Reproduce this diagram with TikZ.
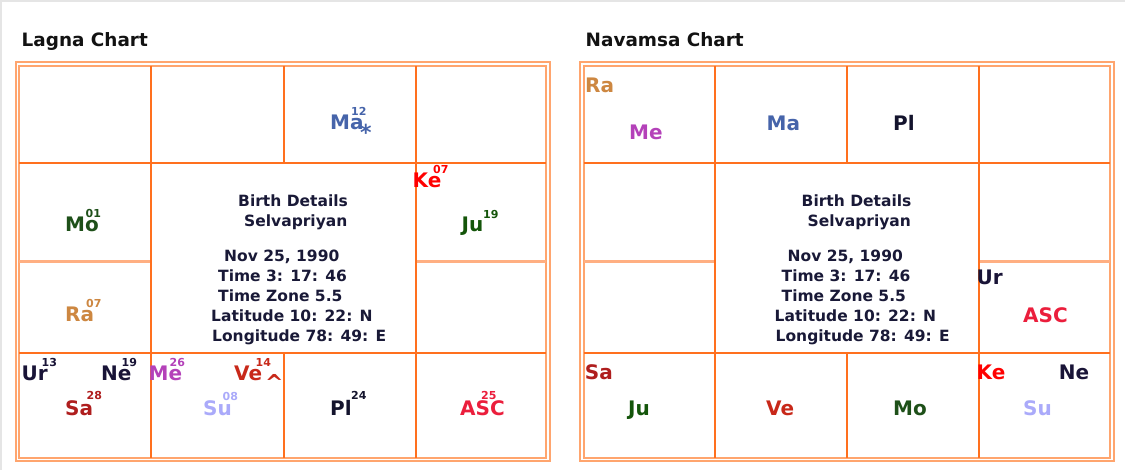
\documentclass[tikz,border=0pt]{standalone}
\usepackage{fontspec}
\setmainfont{DejaVu Sans}
\begin{document}
\begin{tikzpicture}[x=1pt, y=-1pt,
    pl/.style={anchor=base west, inner sep=0pt, font=\fontsize{20}{24}\selectfont\bfseries},
    dg/.style={anchor=base west, inner sep=0pt, font=\fontsize{11}{12}\selectfont\bfseries},
    info/.style={anchor=base west, inner sep=0pt, text=mytxt, font=\fontsize{15.5}{18}\selectfont\bfseries},
    ttl/.style={anchor=base west, inner sep=0pt, text=black!93, font=\fontsize{18.4}{22}\selectfont\bfseries},
    chartframe/.style={draw=myfrm, line width=2pt},
    cellline/.style={draw=mygrd, line width=2pt}]
    \definecolor{myfrm}{RGB}{255,165,110}
    \definecolor{mygrd}{RGB}{255,112,30}
    \definecolor{mylt}{RGB}{255,175,130}
    \definecolor{mytxt}{RGB}{25,25,55}
    \definecolor{cMa}{RGB}{70,100,170}
    \definecolor{cMo}{RGB}{30,80,25}
    \definecolor{cJu}{RGB}{20,85,10}
    \definecolor{cKe}{RGB}{255,0,0}
    \definecolor{cRa}{RGB}{205,135,65}
    \definecolor{cUr}{RGB}{25,20,55}
    \definecolor{cMe}{RGB}{180,65,185}
    \definecolor{cVe}{RGB}{200,40,25}
    \definecolor{cSa}{RGB}{175,30,30}
    \definecolor{cSu}{RGB}{170,170,250}
    \definecolor{cPl}{RGB}{20,20,45}
    \definecolor{cAsc}{RGB}{235,30,60}

    \useasboundingbox (0,0) rectangle (1125,470);
    \fill[white] (0,0) rectangle (1125,470);
    \draw[black!10, line width=2pt] (1,470) -- (1,1) -- (1125,1);

    % titles
    \node[ttl] (lagnaTitle) at (21.5,47) {Lagna Chart};
    \node[ttl] (navTitle) at (585.5,47) {Navamsa Chart};

    % lagna chart frame and cells
    \draw[chartframe] (15.5,62) rectangle (550,461);
    \draw[chartframe] (19,66) rectangle (546,457.5);
    \draw[cellline] (19,163.5) -- (546,163.5);
    \draw[cellline] (19,353.5) -- (546,353.5);
    \draw[mylt, line width=2.2pt] (19,261.5) -- (150.5,261.5);
    \draw[mylt, line width=2.2pt] (415.5,261.5) -- (546,261.5);
    \draw[cellline] (150.5,66) -- (150.5,457.5);
    \draw[cellline] (415.5,66) -- (415.5,457.5);
    \draw[cellline] (283.5,66) -- (283.5,163.5);
    \draw[cellline] (283.5,353.5) -- (283.5,457.5);

    % navamsa chart frame and cells
    \draw[chartframe] (579.5,62) rectangle (1113.5,461);
    \draw[chartframe] (583.5,66) rectangle (1109.5,457.5);
    \draw[cellline] (583.5,163.5) -- (1109.5,163.5);
    \draw[cellline] (583.5,353.5) -- (1109.5,353.5);
    \draw[mylt, line width=2.2pt] (583.5,261.5) -- (714.5,261.5);
    \draw[mylt, line width=2.2pt] (978.5,261.5) -- (1109.5,261.5);
    \draw[cellline] (714.5,66) -- (714.5,457.5);
    \draw[cellline] (978.5,66) -- (978.5,457.5);
    \draw[cellline] (846.5,66) -- (846.5,163.5);
    \draw[cellline] (846.5,353.5) -- (846.5,457.5);

    % birth details
    \node[info] (lInfoA) at (238,206.5) {Birth Details};
    \node[info] (lInfoB) at (244,226.5) {Selvapriyan};
    \node[info] (lInfoC) at (224,261.7) {Nov 25, 1990};
    \node[info] (lInfoD) at (218,281.7) {Time 3: 17: 46};
    \node[info] (lInfoE) at (218,301.7) {Time Zone 5.5};
    \node[info] (lInfoF) at (211,321.7) {Latitude 10: 22: N};
    \node[info] (lInfoG) at (212,341.7) {Longitude 78: 49: E};
    \node[info] (rInfoA) at (801.5,206.5) {Birth Details};
    \node[info] (rInfoB) at (807.5,226.5) {Selvapriyan};
    \node[info] (rInfoC) at (787.5,261.7) {Nov 25, 1990};
    \node[info] (rInfoD) at (781.5,281.7) {Time 3: 17: 46};
    \node[info] (rInfoE) at (781.5,301.7) {Time Zone 5.5};
    \node[info] (rInfoF) at (774.5,321.7) {Latitude 10: 22: N};
    \node[info] (rInfoG) at (775.5,341.7) {Longitude 78: 49: E};

    % lagna planets
    \node[pl, cMa] (lMa) at (330,130) {Ma};
    \node[dg, cMa] (lMaDeg) at (351,115.3) {12};
    \node[anchor=base west, inner sep=0pt, cMa, font=\fontsize{22}{24}\selectfont\bfseries] (lMaStar) at (360,141) {*};
    \node[pl, cMo] (lMo) at (65,232) {Mo};
    \node[dg, cMo] (lMoDeg) at (85.5,217.6) {01};
    \node[pl, cKe] (lKe) at (412.5,188) {Ke};
    \node[dg, cKe] (lKeDeg) at (433,173.6) {07};
    \node[pl, cJu] (lJu) at (461.5,232) {Ju};
    \node[dg, cJu] (lJuDeg) at (483,218.3) {19};
    \node[pl, cRa] (lRa) at (65,321.7) {Ra};
    \node[dg, cRa] (lRaDeg) at (86,307.6) {07};
    \node[pl, cUr] (lUr) at (21.5,380.3) {Ur};
    \node[dg, cUr] (lUrDeg) at (41.5,366.3) {13};
    \node[pl, cUr] (lNe) at (101,380.3) {Ne};
    \node[dg, cUr] (lNeDeg) at (121.5,366.3) {19};
    \node[pl, cMe] (lMe) at (148.5,380.3) {Me};
    \node[dg, cMe] (lMeDeg) at (169.5,366.3) {26};
    \node[pl, cVe] (lVe) at (234,380.3) {Ve};
    \node[dg, cVe] (lVeDeg) at (255.5,366.3) {14};
    \node[anchor=base west, inner sep=0pt, cVe, font=\fontsize{22}{24}\selectfont\bfseries] (lVeRetro) at (265,390.3) {\textasciicircum};
    \node[pl, cSa] (lSa) at (65,415.3) {Sa};
    \node[dg, cSa] (lSaDeg) at (86.5,399.6) {28};
    \node[pl, cSu] (lSu) at (203,415.3) {Su};
    \node[dg, cSu] (lSuDeg) at (222.5,400.3) {08};
    \node[pl, cPl] (lPl) at (330,415.3) {Pl};
    \node[dg, cPl] (lPlDeg) at (351,399.6) {24};
    \node[pl, cAsc] (lAsc) at (460,415.3) {ASC};
    \node[dg, cAsc] (lAscDeg) at (481,399.6) {25};

    % navamsa planets
    \node[pl, cRa] (rRa) at (585,92.5) {Ra};
    \node[pl, cMe] (rMe) at (629,140) {Me};
    \node[pl, cMa] (rMa) at (766.5,130.7) {Ma};
    \node[pl, cPl] (rPl) at (893,130.7) {Pl};
    \node[pl, cUr] (rUr) at (976.5,285) {Ur};
    \node[pl, cAsc] (rAsc) at (1023,322.3) {ASC};
    \node[pl, cSa] (rSa) at (584.7,380) {Sa};
    \node[pl, cKe] (rKe) at (976.5,380) {Ke};
    \node[pl, cUr] (rNe) at (1058.6,380) {Ne};
    \node[pl, cJu] (rJu) at (628,415.7) {Ju};
    \node[pl, cVe] (rVe) at (766,415.7) {Ve};
    \node[pl, cMo] (rMo) at (893,415.7) {Mo};
    \node[pl, cSu] (rSu) at (1023,415.7) {Su};
\end{tikzpicture}
\end{document}
